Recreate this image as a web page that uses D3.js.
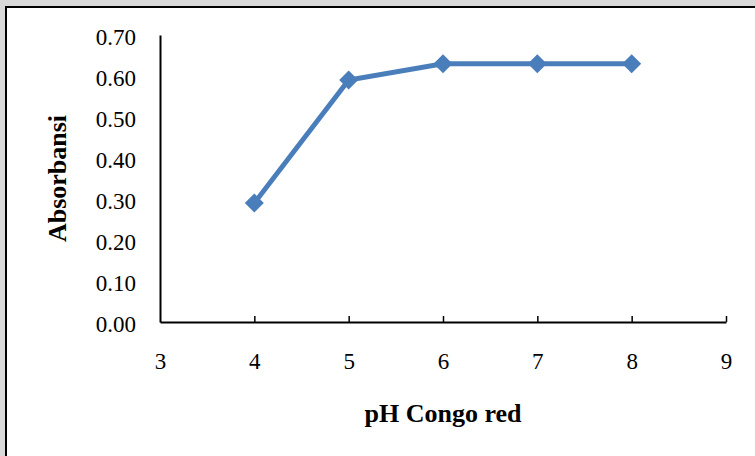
<!DOCTYPE html>
<html>
<head>
<meta charset="utf-8">
<script src="https://cdn.jsdelivr.net/npm/d3@7"></script>
<style>
  body { margin: 0; background: #fff; }
  text { font-family: "Liberation Serif", "Times New Roman", serif; fill: #000; }
</style>
</head>
<body>
<div id="chart"></div>
<script>
// data
var phValues = [4, 5, 6, 7, 8];
var absorbance = [0.29, 0.59, 0.63, 0.63, 0.63];
var xTicks = [3, 4, 5, 6, 7, 8, 9];
var yTicks = [0, 0.1, 0.2, 0.3, 0.4, 0.5, 0.6, 0.7];

const W = 755, H = 456;
const plotLeft = 160, plotRight = 726, plotTop = 35, plotBottom = 322;

var svg = d3.select("#chart").append("svg")
    .attr("width", W)
    .attr("height", H);

// grey page edge + frame
svg.append("rect").attr("x", 0).attr("y", 0).attr("width", W).attr("height", 6).attr("fill", "#d9d9d9");
svg.append("rect").attr("x", 0).attr("y", 0).attr("width", 5).attr("height", H).attr("fill", "#d9d9d9");
svg.append("line").attr("x1", 6).attr("x2", W).attr("y1", 7).attr("y2", 7)
    .attr("stroke", "#000").attr("stroke-width", 2);
svg.append("line").attr("x1", 6).attr("x2", 6).attr("y1", 6).attr("y2", H)
    .attr("stroke", "#000").attr("stroke-width", 2);

var x = d3.scaleLinear().domain([3, 9]).range([plotLeft, plotRight]);
var y = d3.scaleLinear().domain([0, 0.7]).range([plotBottom, plotTop]);

// X axis (ticks pointing up)
var gx = svg.append("g")
    .attr("transform", `translate(0, ${plotBottom})`)
    .call(d3.axisBottom(x).tickValues(xTicks).tickSizeInner(-6).tickSizeOuter(0).tickPadding(30)
        .tickFormat(d3.format("d")));
gx.select(".domain").attr("stroke", "#000").attr("stroke-width", 2);
gx.selectAll(".tick line").attr("stroke", "#000").attr("stroke-width", 1.5);
gx.selectAll(".tick").filter(d => d === 3).select("line").remove();
gx.selectAll("text").attr("font-size", 23).attr("font-family", "Liberation Serif").attr("fill", "#000")
    .attr("dy", "0.75em");

// Y axis (no ticks)
var gy = svg.append("g")
    .attr("transform", `translate(${plotLeft}, 0)`)
    .call(d3.axisLeft(y).tickValues(yTicks).tickSize(0).tickPadding(24).tickFormat(d3.format(".2f")));
gy.select(".domain").attr("stroke", "#000").attr("stroke-width", 2);
gy.selectAll("text").attr("font-size", 23).attr("font-family", "Liberation Serif").attr("fill", "#000")
    .attr("dy", "0.4em");

// series
var pts = phValues.map((p, i) => [p, absorbance[i]]);
svg.append("path")
    .datum(pts)
    .attr("fill", "none")
    .attr("stroke", "#4a7ebb")
    .attr("stroke-width", 5)
    .attr("d", d3.line().x(d => x(d[0])).y(d => y(d[1])));

svg.selectAll(".mark")
    .data(pts)
    .enter()
    .append("path")
    .attr("class", "mark")
    .attr("transform", d => `translate(${x(d[0])}, ${y(d[1])})`)
    .attr("d", d3.symbol().type(d3.symbolDiamond2).size(230))
    .attr("fill", "#4a7ebb");

// axis titles
svg.append("text")
    .attr("transform", `translate(66, ${(plotTop + plotBottom) / 2}) rotate(-90)`)
    .attr("text-anchor", "middle")
    .attr("font-size", 26)
    .attr("font-weight", "bold")
    .text("Absorbansi");

svg.append("text")
    .attr("x", 443)
    .attr("y", 422)
    .attr("text-anchor", "middle")
    .attr("font-size", 26)
    .attr("font-weight", "bold")
    .text("pH Congo red");
</script>
</body>
</html>
